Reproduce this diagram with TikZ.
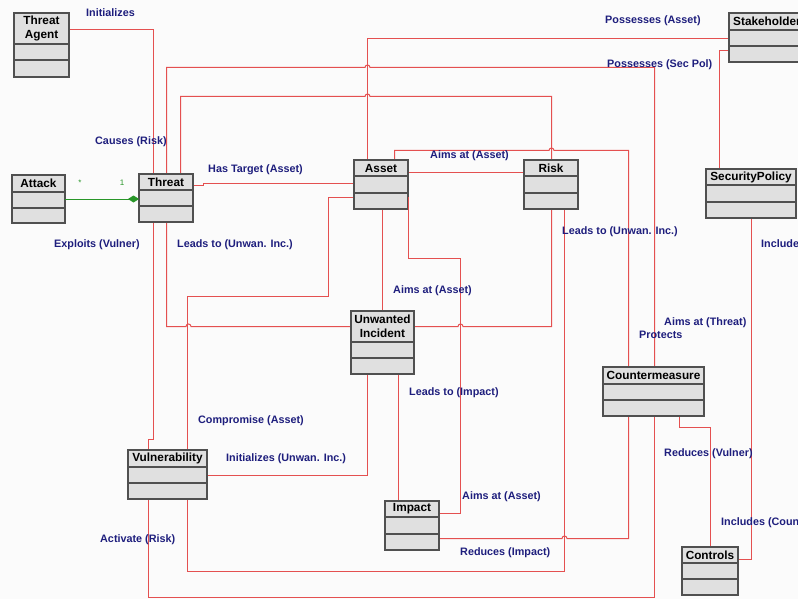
\documentclass[tikz,border=0pt]{standalone}
\usepackage{fontspec}
\setmainfont{Liberation Sans}
\usetikzlibrary{arrows.meta}
\definecolor{connred}{RGB}{228,80,80}
\definecolor{lblblue}{RGB}{30,30,125}
\definecolor{boxfill}{RGB}{224,224,224}
\definecolor{boxdraw}{RGB}{80,80,80}
\definecolor{aggrgreen}{RGB}{40,150,40}
\definecolor{bgcol}{RGB}{251,251,251}
\tikzset{
 classbox/.style={draw=boxdraw, fill=boxfill, line width=1.2pt, inner sep=0pt, outer sep=0pt},
 classline/.style={draw=boxdraw, line width=1.2pt},
 classtitle/.style={font=\fontsize{11.8}{14}\selectfont\bfseries, align=center, inner sep=0pt, text=black},
 link/.style={draw=connred, line width=1pt, shift={(0.5,0.5)}},
 lab/.style={font=\fontsize{10.8}{12}\selectfont\bfseries, text=lblblue, anchor=west, inner sep=0pt},
 mult/.style={font=\fontsize{8}{9}\selectfont, text=aggrgreen, inner sep=0pt},
}
% name, left, top, right, bottom, header bottom, middle line, title
\newcommand\umlclass[8]{%
 \node[classbox, minimum width={#4-#2}, minimum height={#5-#3}] (#1) at ({(#2+#4)/2},{(#3+#5)/2}) {};
 \draw[classline] (#2,#6) -- (#4,#6);
 \draw[classline] (#2,#7) -- (#4,#7);
 \node[classtitle] at ({(#2+#4)/2},{(#3+#6)/2}) {#8};
}
\begin{document}
\begin{tikzpicture}[x=1pt,y=-1pt]
\useasboundingbox (0,0) rectangle (798,599);
\clip (0,0) rectangle (798,599);
\fill[bgcol] (0,0) rectangle (798,599);

% ---- connectors (drawn first, boxes on top)
% Initializes
\draw[link] (69,29) -- (153,29) -- (153,174);
% Exploits (Vulner)
\draw[link] (153,222) -- (153,439) -- (148,439) -- (148,450);
% Aims at (Threat)
\draw[link] (166,174) -- (166,67) -- (364.5,67) arc (180:360:2.5) -- (654,67) -- (654,367);
% Causes (Risk)
\draw[link] (180,174) -- (180,96) -- (364.5,96) arc (180:360:2.5) -- (551,96) -- (551,160);
% Has Target (Asset)
\draw[link] (193,185) -- (203,185) -- (203,183) -- (354,183);
% Leads to (Unwan. Inc.) from Threat
\draw[link] (166,222) -- (166,326) -- (185.5,326) arc (180:360:2.5) -- (351,326);
% Possesses (Asset)
\draw[link] (367,160) -- (367,38) -- (729,38);
% Possesses (Sec Pol)
\draw[link] (729,50) -- (719,50) -- (719,169);
% Protects
\draw[link] (628,367) -- (628,150) -- (553.5,150) arc (0:-180:2.5) -- (394,150) -- (394,160);
% Aims at (Asset) Risk - Asset
\draw[link] (408,172) -- (524,172);
% Compromise (Asset)
\draw[link] (187,450) -- (187,296) -- (328,296) -- (328,197) -- (354,197);
% Leads to (Unwan. Inc.) from Risk
\draw[link] (551,209) -- (551,326) -- (462.5,326) arc (0:-180:2.5) -- (414,326);
% Activate (Risk)
\draw[link] (187,499) -- (187,571) -- (564,571) -- (564,209);
% Reduces (Vulner)
\draw[link] (654,416) -- (654,597) -- (148,597) -- (148,499);
% Asset - Unwanted Incident
\draw[link] (382,209) -- (382,311);
% Impact - Asset
\draw[link] (439,513) -- (460,513) -- (460,258) -- (408,258) -- (408,196);
% Initializes (Unwan. Inc.)
\draw[link] (207,475) -- (367,475) -- (367,374);
% Leads to (Impact)
\draw[link] (398,374) -- (398,501);
% Reduces (Impact)
\draw[link] (628,416) -- (628,538) -- (566.5,538) arc (0:-180:2.5) -- (439,538);
% Countermeasure - Controls
\draw[link] (679,416) -- (679,427) -- (710,427) -- (710,547);
% SecurityPolicy - Controls
\draw[link] (751,218) -- (751,559) -- (738,559);

% ---- classes
\umlclass{agent}{14}{13}{69}{77}{44}{60}{Threat\\Agent}
\umlclass{attack}{12}{175}{65}{223}{192}{208}{Attack}
\umlclass{threat}{139}{174}{193}{222}{190}{206}{Threat}
\umlclass{asset}{354}{160}{408}{209}{176}{193}{Asset}
\umlclass{risk}{524}{160}{578}{209}{176}{193}{Risk}
\umlclass{stake}{729}{13}{805}{62}{30}{46}{Stakeholder}
\umlclass{secpol}{706}{169}{796}{218}{185}{202}{SecurityPolicy}
\umlclass{ui}{351}{311}{414}{374}{342}{358}{Unwanted\\Incident}
\umlclass{counter}{603}{367}{704}{416}{384}{400}{Countermeasure}
\umlclass{vuln}{128}{450}{207}{499}{467}{483}{Vulnerability}
\umlclass{impact}{385}{501}{439}{550}{517}{534}{Impact}
\umlclass{controls}{682}{547}{738}{595}{563}{579}{Controls}

% re-draw the Impact-Asset segment along Asset edge
\draw[link] (408,196) -- (408,209);

% ---- aggregation Attack - Threat
\draw[draw=aggrgreen, line width=0.9pt, -{Diamond[length=11pt,width=7pt,fill=aggrgreen]}] (attack.east |- 0,199) -- (threat.west |- 0,199);
\node[mult] at (80,183) {*};
\node[mult] at (122,183) {1};

% ---- labels
\node[lab] at (86,13) {Initializes};
\node[lab] at (605,21) {Possesses (Asset)};
\node[lab] at (607,65) {Possesses (Sec Pol)};
\node[lab] at (95,142) {Causes (Risk)};
\node[lab] at (208,170) {Has Target (Asset)};
\node[lab] at (430,156) {Aims at (Asset)};
\node[lab] at (54,245) {Exploits (Vulner)};
\node[lab] at (177,245) {Leads to (Unwan. Inc.)};
\node[lab] at (562,232) {Leads to (Unwan. Inc.)};
\node[lab] at (761,244) {Include};
\node[lab] at (393,291) {Aims at (Asset)};
\node[lab] at (664,323) {Aims at (Threat)};
\node[lab] at (639,335) {Protects};
\node[lab] at (409,393) {Leads to (Impact)};
\node[lab] at (198,421) {Compromise (Asset)};
\node[lab] at (226,459) {Initializes (Unwan. Inc.)};
\node[lab] at (664,454) {Reduces (Vulner)};
\node[lab] at (462,497) {Aims at (Asset)};
\node[lab] at (721,523) {Includes (Coun};
\node[lab] at (100,540) {Activate (Risk)};
\node[lab] at (460,553) {Reduces (Impact)};
\end{tikzpicture}
\end{document}
